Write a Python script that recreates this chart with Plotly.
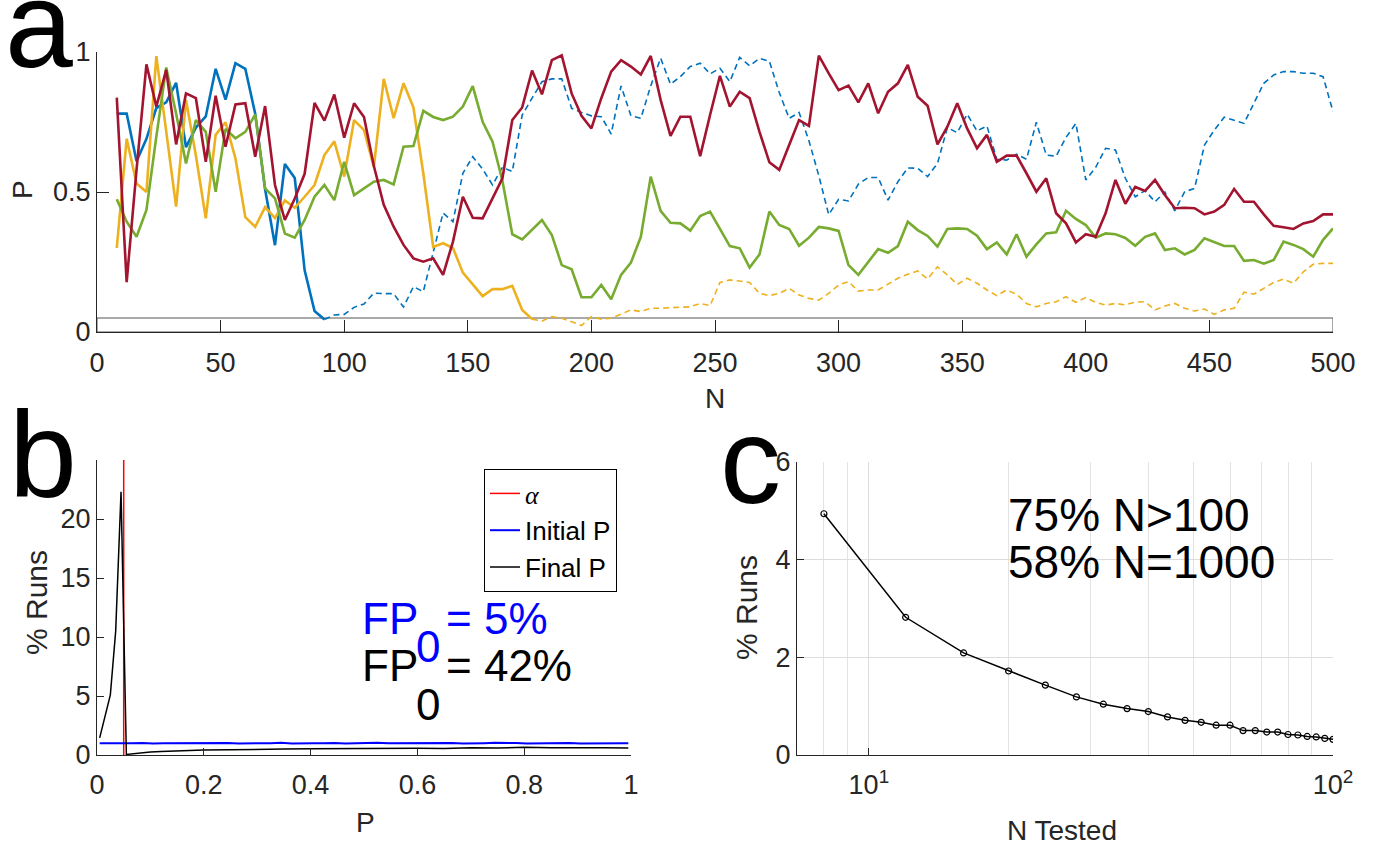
import plotly.graph_objects as go

W, H = 1374, 846

# ---------------- Panel a data ----------------
N_a = list(range(8, 501, 4))
blue_P = [0.78, 0.78, 0.61, 0.69, 0.80, 0.82, 0.89, 0.66, 0.73, 0.77,
          0.94, 0.83, 0.96, 0.94, 0.78, 0.51, 0.31, 0.60, 0.55, 0.22,
          0.075, 0.045, 0.061, 0.063, 0.088, 0.10, 0.139, 0.137, 0.137, 0.089,
          0.162, 0.144, 0.284, 0.425, 0.394, 0.567, 0.626, 0.582, 0.525, 0.588,
          0.573, 0.775, 0.835, 0.894, 0.904, 0.904, 0.799, 0.784, 0.772, 0.769,
          0.707, 0.879, 0.772, 0.763, 0.879, 0.978, 0.885, 0.912, 0.948, 0.960,
          0.922, 0.942, 0.894, 0.981, 0.951, 0.977, 0.967, 0.855, 0.763, 0.784,
          0.683, 0.558, 0.419, 0.474, 0.468, 0.528, 0.552, 0.552, 0.471, 0.537,
          0.586, 0.585, 0.555, 0.602, 0.730, 0.712, 0.778, 0.718, 0.736, 0.617,
          0.614, 0.635, 0.617, 0.749, 0.632, 0.628, 0.695, 0.745, 0.543, 0.588,
          0.656, 0.650, 0.549, 0.483, 0.505, 0.465, 0.500, 0.433, 0.501, 0.513,
          0.668, 0.721, 0.767, 0.757, 0.745, 0.817, 0.888, 0.918, 0.930, 0.930,
          0.924, 0.924, 0.912, 0.787]
red_P = [0.837, 0.178, 0.58, 0.956, 0.805, 0.936, 0.670, 0.852, 0.835, 0.608,
         0.844, 0.662, 0.813, 0.817, 0.626, 0.807, 0.525, 0.400, 0.477, 0.565,
         0.818, 0.755, 0.848, 0.694, 0.817, 0.768, 0.593, 0.454, 0.376, 0.311,
         0.263, 0.251, 0.263, 0.204, 0.323, 0.483, 0.408, 0.406, 0.477, 0.549,
         0.757, 0.802, 0.934, 0.849, 0.971, 0.988, 0.852, 0.772, 0.727, 0.835,
         0.930, 0.971, 0.948, 0.920, 0.986, 0.829, 0.700, 0.769, 0.769, 0.628,
         0.775, 0.915, 0.805, 0.858, 0.835, 0.715, 0.606, 0.579, 0.668, 0.757,
         0.736, 0.987, 0.924, 0.864, 0.880, 0.820, 0.888, 0.781, 0.858, 0.888,
         0.954, 0.840, 0.808, 0.670, 0.733, 0.817, 0.727, 0.656, 0.704, 0.608,
         0.630, 0.630, 0.567, 0.501, 0.549, 0.424, 0.388, 0.320, 0.349, 0.340,
         0.424, 0.543, 0.458, 0.518, 0.504, 0.543, 0.489, 0.442, 0.444, 0.442,
         0.420, 0.430, 0.454, 0.511, 0.465, 0.465, 0.420, 0.379, 0.374, 0.368,
         0.388, 0.396, 0.420, 0.420]
green_P = [0.474, 0.394, 0.340, 0.436, 0.698, 0.945, 0.78, 0.602, 0.757, 0.715,
           0.501, 0.725, 0.692, 0.715, 0.777, 0.513, 0.477, 0.352, 0.337, 0.40,
           0.483, 0.525, 0.471, 0.608, 0.489, 0.513, 0.537, 0.543, 0.527, 0.662,
           0.664, 0.790, 0.768, 0.757, 0.769, 0.805, 0.878, 0.751, 0.680, 0.540,
           0.349, 0.331, 0.367, 0.400, 0.346, 0.239, 0.224, 0.124, 0.124, 0.168,
           0.117, 0.204, 0.248, 0.340, 0.555, 0.433, 0.390, 0.388, 0.362, 0.414,
           0.430, 0.370, 0.307, 0.299, 0.230, 0.277, 0.430, 0.382, 0.368, 0.308,
           0.337, 0.375, 0.370, 0.361, 0.239, 0.204, 0.251, 0.296, 0.283, 0.307,
           0.394, 0.364, 0.343, 0.305, 0.368, 0.370, 0.368, 0.344, 0.296, 0.320,
           0.277, 0.349, 0.269, 0.313, 0.352, 0.356, 0.433, 0.404, 0.382, 0.337,
           0.352, 0.349, 0.336, 0.308, 0.340, 0.352, 0.293, 0.299, 0.277, 0.293,
           0.335, 0.320, 0.307, 0.307, 0.254, 0.257, 0.244, 0.257, 0.323, 0.311,
           0.296, 0.269, 0.329, 0.370]
yellow_P = [0.30, 0.69, 0.53, 0.50, 0.985, 0.72, 0.448, 0.829, 0.63, 0.406,
            0.704, 0.749, 0.62, 0.41, 0.376, 0.446, 0.407, 0.470, 0.444, 0.483,
            0.525, 0.632, 0.681, 0.555, 0.757, 0.721, 0.59, 0.904, 0.764, 0.888,
            0.802, 0.567, 0.304, 0.317, 0.300, 0.212, 0.171, 0.128, 0.153, 0.153,
            0.165, 0.079, 0.046, 0.039, 0.055, 0.049, 0.037, 0.023, 0.055, 0.046,
            0.049, 0.063, 0.079, 0.073, 0.085, 0.085, 0.087, 0.090, 0.090, 0.102,
            0.094, 0.177, 0.186, 0.182, 0.177, 0.138, 0.130, 0.138, 0.156, 0.132,
            0.120, 0.114, 0.138, 0.168, 0.180, 0.146, 0.150, 0.150, 0.170, 0.192,
            0.206, 0.218, 0.189, 0.233, 0.204, 0.170, 0.192, 0.174, 0.150, 0.130,
            0.150, 0.135, 0.102, 0.090, 0.102, 0.108, 0.126, 0.106, 0.123, 0.106,
            0.096, 0.102, 0.097, 0.107, 0.108, 0.079, 0.093, 0.102, 0.085, 0.075,
            0.082, 0.063, 0.079, 0.085, 0.142, 0.135, 0.156, 0.177, 0.189, 0.174,
            0.215, 0.242, 0.245, 0.245]
alpha = 0.05
N_max = 500

# ---------------- Panel b data ----------------
P_initial_x = [0.005, 0.025, 0.045, 0.065, 0.085, 0.105, 0.125, 0.145, 0.165, 0.185,
               0.205, 0.225, 0.245, 0.265, 0.285, 0.305, 0.325, 0.345, 0.365, 0.385,
               0.405, 0.425, 0.445, 0.465, 0.485, 0.505, 0.525, 0.545, 0.565, 0.585,
               0.605, 0.625, 0.645, 0.665, 0.685, 0.705, 0.725, 0.745, 0.765, 0.785,
               0.805, 0.825, 0.845, 0.865, 0.885, 0.905, 0.925, 0.945, 0.965, 0.985, 0.995]
P_initial_y = [1.00, 0.98, 1.01, 0.99, 1.02, 0.97, 1.00, 1.01, 0.98, 1.03,
               0.99, 1.00, 1.02, 0.98, 1.01, 0.99, 1.00, 1.03, 0.98, 1.01,
               1.00, 0.99, 1.02, 0.97, 1.01, 1.00, 1.03, 0.99, 1.00, 0.98,
               1.02, 1.00, 0.99, 1.01, 0.98, 1.02, 1.00, 1.03, 0.99, 1.01,
               0.98, 1.00, 1.02, 0.99, 1.01, 0.98, 1.00, 1.01, 0.99, 1.00, 0.99]
P_final_x = [0.005, 0.015, 0.025, 0.035, 0.045, 0.055, 0.065, 0.075, 0.085, 0.10,
             0.12, 0.15, 0.20, 0.25, 0.30, 0.35, 0.40, 0.45, 0.50, 0.55,
             0.60, 0.65, 0.70, 0.75, 0.80, 0.85, 0.90, 0.95, 0.995]
P_final_y = [1.45, 3.3, 5.1, 10.5, 22.3, 0.05, 0.10, 0.15, 0.20, 0.25,
             0.30, 0.35, 0.42, 0.45, 0.50, 0.50, 0.52, 0.55, 0.55, 0.60,
             0.58, 0.55, 0.62, 0.60, 0.65, 0.62, 0.65, 0.62, 0.60]

# ---------------- Panel c data ----------------
N_tested = [8, 12, 16, 20, 24, 28, 32, 36, 40, 44, 48, 52, 56, 60, 64, 68,
            72, 76, 80, 84, 88, 92, 96, 100]
pct_runs = [4.94, 2.82, 2.09, 1.72, 1.43, 1.19, 1.04, 0.95, 0.89, 0.78, 0.71, 0.67,
            0.61, 0.61, 0.50, 0.50, 0.47, 0.47, 0.42, 0.41, 0.38, 0.37, 0.34, 0.32]

# ---------------- colours ----------------
C_BLUE = "#0072BD"
C_YEL = "#EDB120"
C_GRN = "#77AC30"
C_RED = "#A2142F"
AX = "#262626"
FONT = "Liberation Sans, Arial, Helvetica, sans-serif"


def px(x):
    return x / W


def py(y):
    return 1 - y / H


def split_at_alpha(xs, ys):
    k = next((i for i, v in enumerate(ys) if v < alpha), len(ys) - 1)
    return xs[:k + 1], ys[:k + 1], xs[k:], ys[k:]


fig = go.Figure()

# Panel a traces
for ys, col in [(blue_P, C_BLUE), (yellow_P, C_YEL)]:
    sx, sy, dx, dy = split_at_alpha(N_a, ys)
    fig.add_trace(go.Scatter(x=dx, y=dy, mode="lines", xaxis="x", yaxis="y",
                             line=dict(color=col, width=1.6, dash="6px,4px"),
                             showlegend=False))
    fig.add_trace(go.Scatter(x=sx, y=sy, mode="lines", xaxis="x", yaxis="y",
                             line=dict(color=col, width=2.6), showlegend=False))
fig.add_trace(go.Scatter(x=N_a, y=green_P, mode="lines", xaxis="x", yaxis="y",
                         line=dict(color=C_GRN, width=2.6), showlegend=False))
fig.add_trace(go.Scatter(x=N_a, y=red_P, mode="lines", xaxis="x", yaxis="y",
                         line=dict(color=C_RED, width=2.6), showlegend=False))

# Panel b traces
fig.add_trace(go.Scatter(x=[alpha, alpha], y=[0, 25], mode="lines", xaxis="x2", yaxis="y2",
                         line=dict(color="#FF0000", width=1.5),
                         name="<span style='font-family:Liberation Serif, Times New Roman, serif'><i>α</i></span>"))
fig.add_trace(go.Scatter(x=P_initial_x, y=P_initial_y, mode="lines", xaxis="x2", yaxis="y2",
                         line=dict(color="#0000FF", width=2), name="Initial P"))
fig.add_trace(go.Scatter(x=P_final_x, y=P_final_y, mode="lines", xaxis="x2", yaxis="y2",
                         line=dict(color="#000000", width=1.5), name="Final P"))

# Panel c trace
fig.add_trace(go.Scatter(x=N_tested, y=pct_runs, mode="lines+markers", xaxis="x3", yaxis="y3",
                         line=dict(color="#000000", width=1.5),
                         marker=dict(symbol="circle-open", size=6, color="#000000",
                                     line=dict(width=1.2)),
                         showlegend=False))

# alpha box in panel a
fig.add_shape(type="rect", xref="x", yref="y", x0=0, x1=N_max, y0=0, y1=alpha,
              line=dict(color="#555555", width=1), fillcolor="rgba(0,0,0,0)", layer="below")

common = dict(showline=True, linecolor=AX, linewidth=1, ticks="inside", tickcolor=AX,
              tickfont=dict(size=27, color=AX, family=FONT), showgrid=False, zeroline=False,
              mirror=False, automargin=False)

fig.update_layout(
    width=W, height=H, margin=dict(l=0, r=0, t=0, b=0, pad=0, autoexpand=False),
    paper_bgcolor="white", plot_bgcolor="rgba(0,0,0,0)",
    font=dict(family=FONT, color=AX),
    xaxis=dict(domain=[px(97), px(1333)], anchor="y", range=[0, 500],
               tickvals=list(range(0, 501, 50)), ticklen=12, ticklabelstandoff=7, **common),
    yaxis=dict(domain=[py(332), py(52)], anchor="x", range=[0, 1],
               tickvals=[0, 0.5, 1], ticktext=["0", "0.5", "1"], ticklen=12, **common),
    xaxis2=dict(domain=[px(97), px(631)], anchor="y2", range=[0, 1],
                tickvals=[0, 0.2, 0.4, 0.6, 0.8, 1], ticktext=["0", "0.2", "0.4", "0.6", "0.8", "1"],
                ticklen=7, ticklabelstandoff=6, **common),
    yaxis2=dict(domain=[py(755), py(460)], anchor="x2", range=[0, 25],
                tickvals=[0, 5, 10, 15, 20], ticklen=7, **common),
    xaxis3=dict(domain=[px(797), px(1333)], anchor="y3", type="log", range=[0.845098, 2],
                tickvals=[10, 100], ticktext=["10<sup>1</sup>", "10<sup>2</sup>"],
                ticklen=7, ticklabelstandoff=6,
                minor=dict(tickvals=[8, 9, 20, 30, 40, 50, 60, 70, 80, 90], showgrid=True,
                           gridcolor="#e3e3e3", gridwidth=1, ticks=""),
                **{**common, "showgrid": True}, gridcolor="#dcdcdc"),
    yaxis3=dict(domain=[py(755), py(462)], anchor="x3", range=[0, 6],
                tickvals=[0, 2, 4, 6], ticklen=7,
                **{**common, "showgrid": True}, gridcolor="#dcdcdc"),
    showlegend=True,
    legend=dict(x=px(484), y=py(469), xanchor="left", yanchor="top",
                bordercolor="#000000", borderwidth=1, bgcolor="white",
                font=dict(size=26, color="#000000", family=FONT),
                tracegroupgap=0, itemwidth=30),
)

ann = []


def text(x, y, s, size, color=AX, xanchor="center", yanchor="middle", angle=0):
    ann.append(dict(x=px(x), y=py(y), xref="paper", yref="paper", text=s, showarrow=False,
                    font=dict(size=size, color=color, family=FONT),
                    xanchor=xanchor, yanchor=yanchor, textangle=angle))


# panel letters
text(3, 25, "a", 122, "#000000", xanchor="left")
text(7, 455, "b", 122, "#000000", xanchor="left")
text(718, 461, "c", 122, "#000000", xanchor="left")
# axis titles
text(715, 398, "N", 28)
text(22, 190, "P", 28, angle=-90)
text(365, 822, "P", 28)
text(36, 603, "% Runs", 30, angle=-90)
text(746, 608, "% Runs", 30, angle=-90)
text(1062, 830, "N Tested", 28)
# panel b formula text
text(360, 618, "FP", 44, "#0000FF", xanchor="left")
text(428, 646, "0", 44, "#0000FF")
text(444, 618, "= 5%", 44, "#0000FF", xanchor="left")
text(360, 665, "FP", 44, "#000000", xanchor="left")
text(428, 704, "0", 44, "#000000")
text(444, 665, "= 42%", 44, "#000000", xanchor="left")
# panel c text
text(1006, 515, "75% N>100", 46, "#000000", xanchor="left")
text(1006, 562, "58% N=1000", 46, "#000000", xanchor="left")

fig.update_layout(annotations=ann)
fig.write_html("out.html", config={"displayModeBar": False},
               post_script="document.body.style.margin='0';")
